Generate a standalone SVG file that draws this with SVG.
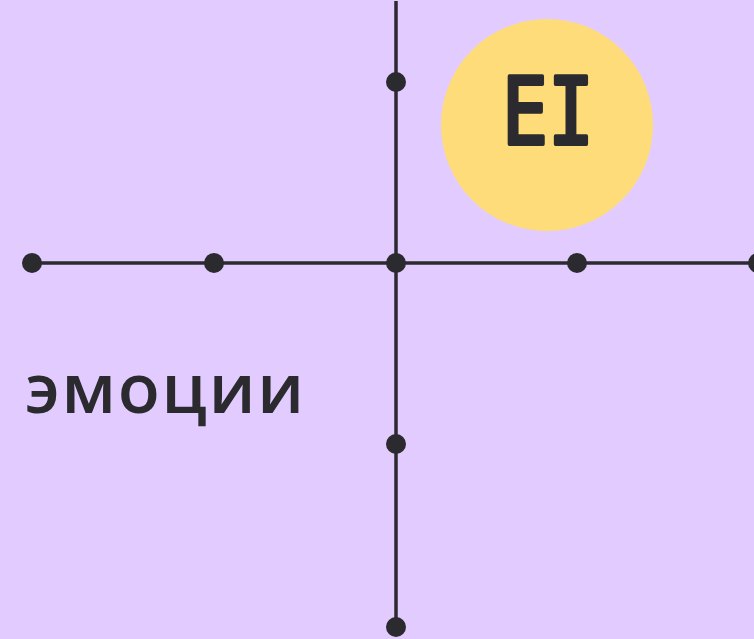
<svg xmlns="http://www.w3.org/2000/svg" width="754" height="639" viewBox="0 0 754 639">
<style>
.ln{stroke:#2b2a2e;stroke-width:3.5;fill:none}
.dot{fill:#2b2a2e}
.lbl{font-family:"Open Sans","DejaVu Sans",sans-serif;font-weight:600;fill:#2b2a2e}
.hand{font-family:"DejaVu Sans Mono",monospace;fill:#2b2a2e;stroke:#2b2a2e;stroke-width:4;stroke-linejoin:round;stroke-linecap:round}
</style>
<rect width="754" height="639" fill="#e2ccff"/>
<g id="connectors">
<line class="ln" x1="396" y1="1" x2="396" y2="627"/>
<line class="ln" x1="32" y1="263" x2="758" y2="263"/>
</g>
<g id="ei">
<circle cx="547" cy="125" r="106" fill="#ffdc7a"/>
<text class="hand" x="502" y="144" font-size="92" textLength="92" lengthAdjust="spacingAndGlyphs">EI</text>
</g>
<g id="dots">
<circle class="dot" cx="396" cy="82" r="10"/>
<circle class="dot" cx="32" cy="263" r="10"/>
<circle class="dot" cx="214" cy="263" r="10"/>
<circle class="dot" cx="396" cy="263" r="10"/>
<circle class="dot" cx="577" cy="263" r="10"/>
<circle class="dot" cx="758" cy="263" r="10"/>
<circle class="dot" cx="396" cy="444" r="10"/>
<circle class="dot" cx="396" cy="627" r="10"/>
</g>
<g id="emotions">
<text class="lbl" x="25" y="413" font-size="69" textLength="279" lengthAdjust="spacing">эмоции</text>
</g>
</svg>
